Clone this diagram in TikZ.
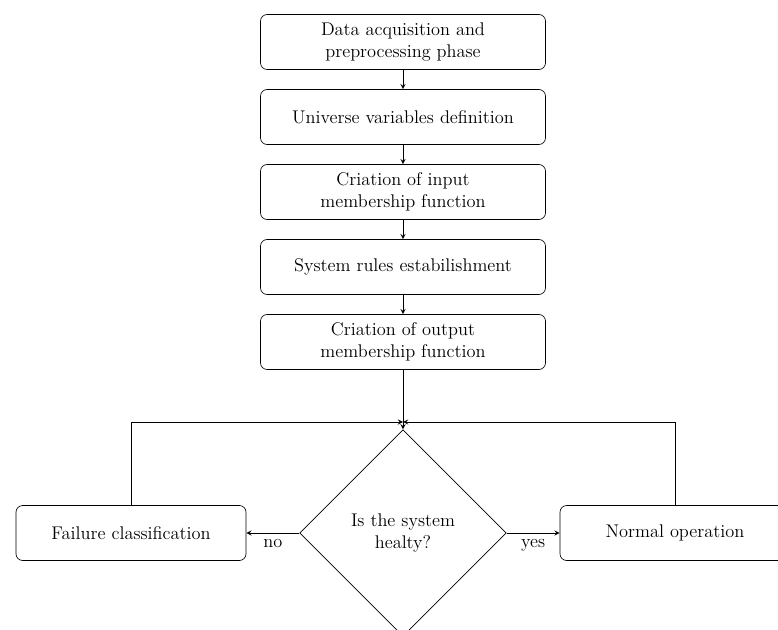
\documentclass[tikz,border=0pt]{standalone}
\usetikzlibrary{shapes.geometric,arrows}
\tikzset{
  stage/.style={draw, rounded corners=4pt, minimum width=171pt, minimum height=33pt, align=center, font=\fontsize{11}{13.5}\selectfont},
  check/.style={draw, diamond, aspect=1, minimum size=124pt, inner sep=0pt, align=center, font=\fontsize{11}{13.5}\selectfont},
  answer/.style={below, font=\fontsize{11}{13.5}\selectfont},
  flow/.style={-stealth}
}
\begin{document}
\begin{tikzpicture}[x=0.6pt,y=-0.6pt]
		\useasboundingbox (0,0) rectangle (778,630);
		\clip (0,0) rectangle (778,630);
		\node[stage] (acq) at (403,42) {Data acquisition and\\preprocessing phase};
		\node[stage] (univ) at (403,117) {Universe variables definition};
		\node[stage] (inmf) at (403,192) {Criation of input\\membership function};
		\node[stage] (rules) at (403,267) {System rules estabilishment};
		\node[stage] (outmf) at (403,342) {Criation of output\\membership function};
		\node[check] (crit) at (403,533) {Is the system\\healty?};
		\node[stage, minimum width=138pt] (fail) at (131,533) {Failure classification};
		\node[stage, minimum width=138pt] (normal) at (675,533) {Normal operation};
		\coordinate (merge) at (403,422);
		\draw[flow] (acq) -- (univ);
		\draw[flow] (univ) -- (inmf);
		\draw[flow] (inmf) -- (rules);
		\draw[flow] (rules) -- (outmf);
		\draw[flow] (outmf) -- (crit);
		\draw[flow] (fail.north) |- (merge);
		\draw[flow] (normal.north) |- (merge);
		\draw[flow] (crit.west) -- node[answer]{no} (fail.east);
		\draw[flow] (crit.east) -- node[answer]{yes} (normal.west);
	\end{tikzpicture}
\end{document}
